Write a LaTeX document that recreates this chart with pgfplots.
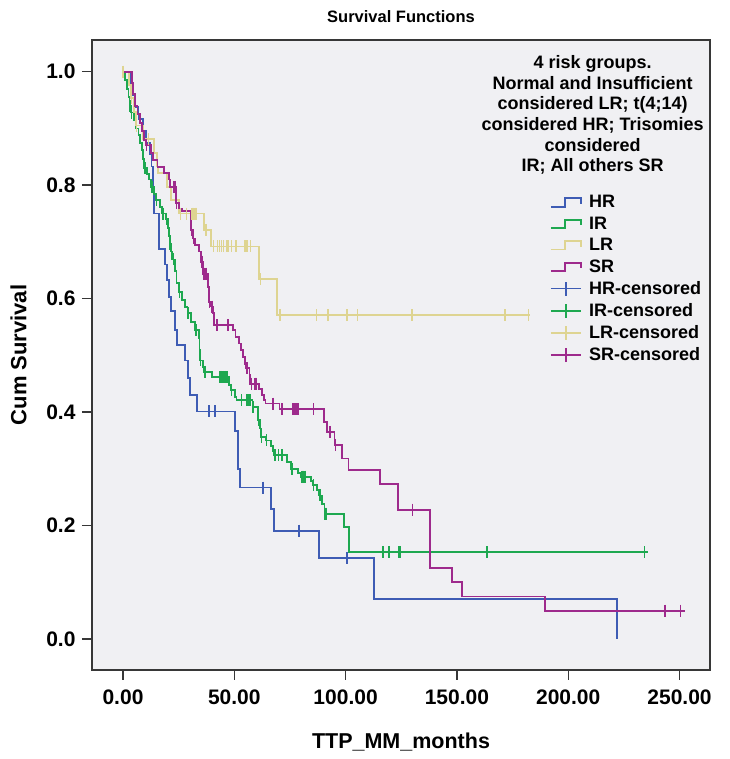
\documentclass[border=0pt]{standalone}
\usepackage{pgfplots}
\pgfplotsset{compat=1.18}
\usepackage{fontspec}
\setmainfont{Liberation Sans}
\definecolor{hrcol}{RGB}{62,92,180}
\definecolor{ircol}{RGB}{30,168,80}
\definecolor{lrcol}{RGB}{222,212,145}
\definecolor{srcol}{RGB}{158,42,140}
\definecolor{bgcol}{RGB}{240,240,243}
\definecolor{framecol}{RGB}{55,55,55}
\begin{document}
\begin{tikzpicture}
\begin{axis}[
  width=618pt, height=630pt, scale only axis,
  xmin=-13.93, xmax=263.7, ymin=-0.0547, ymax=1.0559,
  axis background/.style={fill=bgcol},
  axis line style={framecol, line width=1.8pt},
  tick style={framecol, line width=1.4pt},
  tick align=outside, major tick length=10pt,
  xtick={0,50,100,150,200,250},
  xticklabels={0.00,50.00,100.00,150.00,200.00,250.00},
  ytick={0,0.2,0.4,0.6,0.8,1.0},
  yticklabels={0.0,0.2,0.4,0.6,0.8,1.0},
  xtick pos=left, ytick pos=left,
  minor tick num=0,
  ticklabel style={font=\bfseries\fontsize{21}{24}\selectfont},
  xticklabel style={yshift=-6pt},
  yticklabel style={xshift=-3pt},
  xlabel={TTP\_MM\_months}, ylabel={Cum Survival},
  label style={font=\bfseries\fontsize{21.5}{25}\selectfont},
  xlabel style={at={(axis description cs:0.5,0)}, anchor=center, yshift=-72pt},
  ylabel style={at={(axis description cs:-0.119,0.5)}, anchor=center, font=\bfseries\fontsize{22}{25}\selectfont},
  title={Survival Functions},
  title style={at={(axis description cs:0.5,1)}, anchor=center, yshift=17pt, font=\bfseries\fontsize{16.5}{20}\selectfont},
  legend style={at={(axis description cs:0.741,0.757)}, anchor=north west, draw=none, fill=none,
    font=\bfseries\fontsize{18}{21.8}\selectfont, row sep=3.6pt, inner sep=0pt},
  legend cell align=left,
]
\addlegendimage{legend image code/.code={\draw[hrcol,line width=1.6pt] (0pt,-4.5pt) -- (14pt,-4.5pt) -- (14pt,4pt) -- (30pt,4pt) -- (30pt,-1.5pt); \path (36pt,0pt);}}
\addlegendimage{legend image code/.code={\draw[ircol,line width=1.6pt] (0pt,-4.5pt) -- (14pt,-4.5pt) -- (14pt,4pt) -- (30pt,4pt) -- (30pt,-1.5pt); \path (36pt,0pt);}}
\addlegendimage{legend image code/.code={\draw[lrcol,line width=1.6pt] (0pt,-4.5pt) -- (14pt,-4.5pt) -- (14pt,4pt) -- (30pt,4pt) -- (30pt,-1.5pt); \path (36pt,0pt);}}
\addlegendimage{legend image code/.code={\draw[srcol,line width=1.6pt] (0pt,-4.5pt) -- (14pt,-4.5pt) -- (14pt,4pt) -- (30pt,4pt) -- (30pt,-1.5pt); \path (36pt,0pt);}}
\addlegendimage{legend image code/.code={\draw[hrcol,line width=1.6pt] (0pt,0pt) -- (30pt,0pt) (15pt,-7pt) -- (15pt,7pt); \path (36pt,0pt);}}
\addlegendimage{legend image code/.code={\draw[ircol,line width=1.6pt] (0pt,0pt) -- (30pt,0pt) (15pt,-7pt) -- (15pt,7pt); \path (36pt,0pt);}}
\addlegendimage{legend image code/.code={\draw[lrcol,line width=1.6pt] (0pt,0pt) -- (30pt,0pt) (15pt,-7pt) -- (15pt,7pt); \path (36pt,0pt);}}
\addlegendimage{legend image code/.code={\draw[srcol,line width=1.6pt] (0pt,0pt) -- (30pt,0pt) (15pt,-7pt) -- (15pt,7pt); \path (36pt,0pt);}}
\legend{HR,IR,LR,SR,HR-censored,IR-censored,LR-censored,SR-censored}

% HR
\addplot[const plot, hrcol, line width=1.8pt, forget plot] table {
0 1.0
3.5 0.979
4.2 0.958
5.5 0.938
7.0 0.917
9.0 0.896
10.5 0.875
12.0 0.854
12.8 0.833
13.3 0.792
13.8 0.750
16.0 0.688
19.0 0.660
19.6 0.633
20.7 0.603
21.6 0.578
23.5 0.545
24.2 0.518
27.9 0.491
29.3 0.460
30.0 0.430
33.3 0.401
50.3 0.367
51.8 0.300
52.6 0.267
66.5 0.229
67.8 0.191
88.0 0.143
112.6 0.071
221.9 0.0
};
% IR
\addplot[const plot, ircol, line width=1.8pt, forget plot] table {
0 1.0
1.0 0.985
1.8 0.970
2.5 0.955
2.9 0.940
3.6 0.928
5.0 0.915
6.0 0.900
7.0 0.888
7.8 0.875
8.4 0.862
9.0 0.846
9.6 0.830
10.8 0.820
11.6 0.810
12.5 0.797
14.0 0.785
14.9 0.774
16.5 0.762
17.5 0.750
19.3 0.741
20.3 0.725
20.8 0.711
21.0 0.697
21.6 0.683
21.9 0.669
23.4 0.648
24.0 0.627
25.0 0.612
26.5 0.597
27.8 0.585
29.0 0.574
30.5 0.559
32.3 0.544
34.0 0.530
34.4 0.510
34.6 0.491
35.8 0.480
36.5 0.471
40.0 0.462
47.5 0.448
48.6 0.439
50.3 0.427
51.0 0.421
58.2 0.409
60.5 0.386
61.5 0.371
62.0 0.356
64.2 0.350
66.5 0.340
67.5 0.332
68.0 0.324
73.5 0.312
75.5 0.300
78.5 0.293
80.0 0.286
84.5 0.278
85.3 0.271
87.0 0.262
88.2 0.253
89.5 0.238
90.5 0.221
99.4 0.198
101.5 0.153
235.8 0.153
};
% LR
\addplot[const plot, lrcol, line width=1.8pt, forget plot] table {
0 1.0
2.8 0.976
3.5 0.953
5.0 0.929
5.8 0.905
9.0 0.881
13.8 0.857
15.2 0.833
15.8 0.821
19.6 0.797
21.5 0.774
25.3 0.750
36.3 0.721
39.5 0.692
61.0 0.634
69.0 0.571
182.8 0.571
};
% SR
\addplot[const plot, srcol, line width=1.8pt, forget plot] table {
0 1.0
4.0 0.980
4.6 0.960
5.5 0.940
6.5 0.925
7.5 0.910
8.5 0.895
9.5 0.880
10.2 0.871
12.6 0.856
13.4 0.844
15.5 0.832
18.5 0.821
20.5 0.810
21.2 0.797
23.8 0.768
25.0 0.759
26.5 0.754
30.3 0.738
30.6 0.721
31.3 0.706
32.5 0.695
34.0 0.683
35.0 0.665
36.0 0.644
38.3 0.620
38.6 0.594
39.6 0.586
40.4 0.574
40.7 0.553
49.5 0.544
50.5 0.533
52.0 0.521
53.0 0.509
54.0 0.497
54.8 0.484
55.2 0.477
56.8 0.465
57.2 0.450
61.0 0.440
62.5 0.430
63.2 0.421
64.0 0.415
70.3 0.405
90.3 0.383
91.8 0.365
95.0 0.342
98.2 0.318
101.3 0.298
115.5 0.273
123.7 0.228
137.9 0.125
147.9 0.100
152.2 0.075
189.6 0.050
252.5 0.050
};
% censored
\addplot[only marks, mark=|, mark size=6pt, hrcol, mark options={line width=1.6pt}, forget plot] table {
38.6 0.401
41.3 0.401
62.8 0.267
79.1 0.191
100.5 0.143
};
\addplot[only marks, mark=|, mark size=6pt, ircol, mark options={line width=1.6pt}, forget plot] table {
3.1 0.940
3.9 0.928
9.9 0.830
12.9 0.797
15.1 0.774
18.1 0.750
19.6 0.741
21.1 0.697
22.6 0.669
25.4 0.612
29.3 0.574
32.8 0.544
34.8 0.491
36.8 0.471
43.6 0.462
44.3 0.462
45.0 0.462
45.8 0.462
46.6 0.462
48.8 0.439
53.3 0.421
55.6 0.421
56.3 0.421
57.0 0.421
58.5 0.409
60.8 0.386
62.3 0.356
64.5 0.350
68.3 0.324
69.8 0.324
71.3 0.324
75.8 0.300
80.3 0.286
81.0 0.286
81.8 0.286
85.5 0.271
88.5 0.253
90.7 0.221
91.5 0.221
116.9 0.153
119.6 0.153
123.7 0.153
124.4 0.153
163.4 0.153
234.2 0.153
};
\addplot[only marks, mark=|, mark size=6pt, lrcol, mark options={line width=1.6pt}, forget plot] table {
0 1.0
3.9 0.953
6.1 0.905
11.4 0.881
25.8 0.750
28.6 0.750
30.9 0.750
31.6 0.750
32.3 0.750
33.1 0.750
37.3 0.721
40.6 0.692
42.4 0.692
43.3 0.692
44.3 0.692
45.1 0.692
46.6 0.692
47.3 0.692
48.8 0.692
50.8 0.692
54.8 0.692
55.6 0.692
57.2 0.692
61.8 0.634
70.5 0.571
87.0 0.571
92.2 0.571
100.5 0.571
105.3 0.571
129.7 0.571
171.6 0.571
182.1 0.571
};
\addplot[only marks, mark=|, mark size=6pt, srcol, mark options={line width=1.6pt}, forget plot] table {
10.6 0.871
22.6 0.797
23.4 0.797
24.1 0.768
30.8 0.721
31.6 0.706
35.4 0.665
36.5 0.644
37.3 0.644
38.8 0.594
39.9 0.586
42.1 0.553
47.3 0.553
55.6 0.477
57.8 0.450
59.3 0.450
60.0 0.450
67.5 0.415
71.5 0.405
76.5 0.405
77.2 0.405
77.9 0.405
78.6 0.405
85.5 0.405
93.0 0.365
95.5 0.342
130.0 0.228
243.5 0.050
250.5 0.050
};
\node[align=center, font=\bfseries\fontsize{18}{20.7}\selectfont, anchor=center] at (axis description cs:0.81,0.881)
  {4 risk groups.\\Normal and Insufficient\\considered LR; t(4;14)\\considered HR; Trisomies\\considered\\IR; All others SR};
\end{axis}
\pgfresetboundingbox
\path (-92pt,-89pt) rectangle (637pt,670pt);
\end{tikzpicture}
\end{document}
